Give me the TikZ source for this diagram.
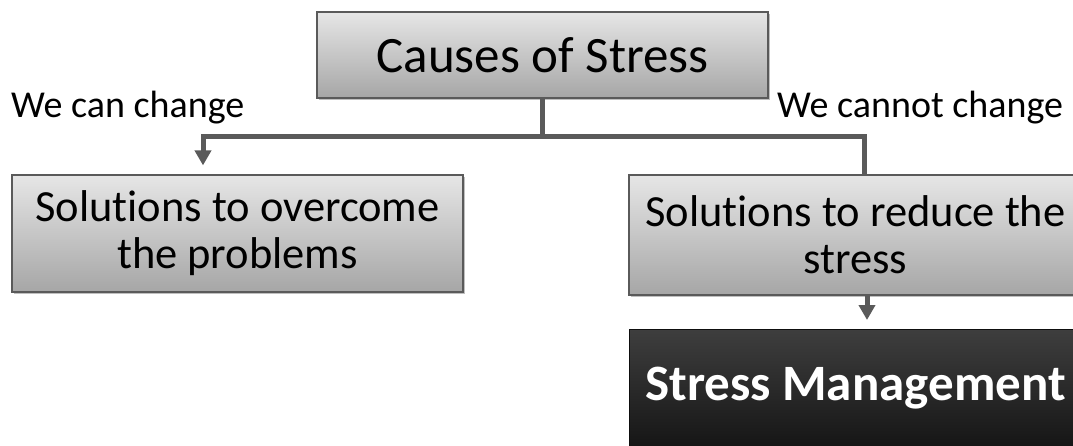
\documentclass[tikz,border=0pt]{standalone}
\usepackage{fontspec}
\setmainfont[Ligatures=NoCommon]{Carlito}
\usetikzlibrary{arrows.meta,shadows}
\definecolor{linegray}{HTML}{5A5A5A}
\definecolor{boxtop}{HTML}{E6E6E6}
\definecolor{boxbot}{HTML}{A6A6A6}
\definecolor{darktop}{HTML}{3E3E3E}
\definecolor{darkbot}{HTML}{0E0E0E}
\tikzset{
  graybox/.style={draw=linegray, line width=1.2pt, top color=boxtop, bottom color=boxbot,
    inner sep=0pt, align=center, text=black,
    drop shadow={shadow xshift=2pt, shadow yshift=-2pt, fill=black, opacity=0.25}},
  darkbox/.style={draw=darkbot, line width=1pt, top color=darktop, bottom color=darkbot,
    inner sep=0pt, align=center, text=white},
  conn/.style={draw=linegray, line width=5pt},
  tip/.style={-{Triangle[width=16pt,length=15pt]}},
  lbl/.style={inner sep=0pt, font=\fontsize{38}{42}\selectfont}
}
\begin{document}
\begin{tikzpicture}[x=1pt,y=-1pt]
\useasboundingbox (0,0) rectangle (1073,446);
\clip (0,0) rectangle (1073,446);
\fill[white] (0,0) rectangle (1073,446);
\node[graybox, minimum width=451pt, minimum height=86pt, font=\fontsize{51}{55}\selectfont]
  (top) at (542.5,55) {Causes of Stress};
\node[graybox, minimum width=451pt, minimum height=117pt, font=\fontsize{44.5}{47}\selectfont]
  (left) at (237.5,233.5) {Solutions to overcome\\the problems};
\node[graybox, minimum width=453pt, minimum height=120pt, font=\fontsize{44.5}{47}\selectfont]
  (right) at (855.5,235) {Solutions to reduce the\\stress};
\node[darkbox, minimum width=453pt, minimum height=140pt, text depth=31pt, anchor=north,
  font=\bfseries\fontsize{51}{55}\selectfont]
  (mgmt) at (855.5,329) {Stress Management};
\node[lbl, anchor=base west] (lcan) at (11,118) {We can change};
\node[lbl, anchor=base west] (lcannot) at (777,118) {We cannot change};
\coordinate (j) at (542.5,137);
\draw[conn] (top.south) -- (j);
\draw[conn, tip, shorten >=9pt] (j) -| ([xshift=-34.5pt]left.north);
\draw[conn] (j) -| ([xshift=8.5pt]right.north);
\draw[conn, tip, shorten >=9pt] ([xshift=11.5pt]right.south) -- ([xshift=11.5pt]mgmt.north);
\end{tikzpicture}
\end{document}
